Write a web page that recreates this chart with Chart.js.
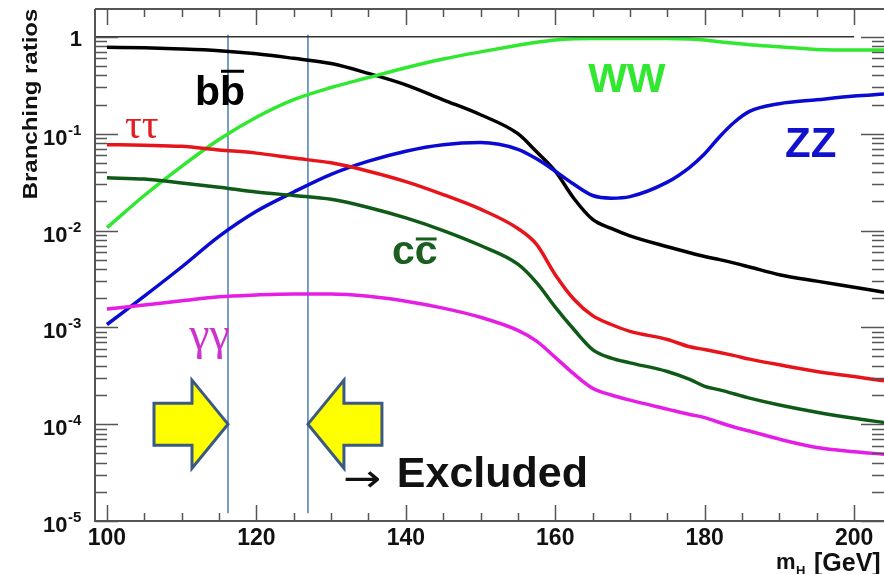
<!DOCTYPE html>
<html>
<head>
<meta charset="utf-8">
<script src="https://cdn.jsdelivr.net/npm/chart.js@4.4.1/dist/chart.umd.min.js"></script>
<style>
  html, body { margin: 0; padding: 0; background: #fff; }
  canvas { display: block; }
</style>
</head>
<body>
<canvas id="chart" width="884" height="574"></canvas>
<script>
// Higgs mass points (GeV)
const masses = [100, 105, 110, 115, 120, 125, 130, 135, 140, 145, 150, 155, 157.5, 160, 162.5, 165, 167.5, 170, 175, 178, 180, 182, 184, 186, 190, 195, 200, 204];

// branching ratios
const brBB  = [0.78, 0.77, 0.75, 0.72, 0.67, 0.60, 0.53, 0.42, 0.32, 0.224, 0.157, 0.10, 0.065, 0.041, 0.0214, 0.0130, 0.0105, 0.0088, 0.0068, 0.0059, 0.0054, 0.0050, 0.0046, 0.0042, 0.0035, 0.0030, 0.0026, 0.0023];
const brWW  = [0.0107, 0.023, 0.046, 0.087, 0.148, 0.225, 0.30, 0.38, 0.48, 0.59, 0.70, 0.82, 0.88, 0.93, 0.955, 0.96, 0.96, 0.96, 0.96, 0.95, 0.93, 0.89, 0.86, 0.83, 0.79, 0.74, 0.73, 0.73];
const brZZ  = [0.00107, 0.0021, 0.0042, 0.0087, 0.0158, 0.025, 0.038, 0.052, 0.066, 0.077, 0.081, 0.069, 0.055, 0.041, 0.030, 0.023, 0.0216, 0.0224, 0.0316, 0.045, 0.062, 0.093, 0.132, 0.17, 0.204, 0.224, 0.245, 0.257];
const brTau = [0.077, 0.076, 0.074, 0.068, 0.063, 0.056, 0.050, 0.041, 0.032, 0.0235, 0.0166, 0.0105, 0.0072, 0.0035, 0.00195, 0.00132, 0.00107, 0.00091, 0.00075, 0.00063, 0.00059, 0.00055, 0.00051, 0.00047, 0.00041, 0.00035, 0.00031, 0.00028];
const brCC  = [0.035, 0.034, 0.031, 0.028, 0.025, 0.023, 0.021, 0.0173, 0.0135, 0.0100, 0.0070, 0.0045, 0.0029, 0.00162, 0.00095, 0.00059, 0.00048, 0.00043, 0.00035, 0.00029, 0.000246, 0.000226, 0.000205, 0.000186, 0.000158, 0.000133, 0.000115, 0.000104];
const brGG  = [0.00155, 0.0017, 0.00188, 0.00207, 0.00216, 0.00221, 0.00221, 0.00209, 0.00186, 0.00158, 0.00127, 0.00093, 0.00072, 0.00049, 0.00033, 0.000235, 0.0002, 0.000177, 0.000143, 0.000126, 0.000117, 0.000104, 0.000093, 0.000085, 0.00007, 0.0000575, 0.000052, 0.000049];

// excluded window edges (GeV)
const excludedEdges = [116.2, 126.9];

// axis ticks
const yMajorExp = [0, -1, -2, -3, -4, -5];
const xMajorTicks = [100, 120, 140, 160, 180, 200];

function pts(vals) {
    return masses.map((m, i) => ({ x: m, y: vals[i] }));
}

function curve(vals, color) {
    return {
        data: pts(vals),
        borderColor: color,
        borderWidth: 3.5,
        pointRadius: 0,
        fill: false,
        cubicInterpolationMode: 'monotone'
    };
}

const datasets = [
    { data: [{ x: 98.4, y: 1 }, { x: 200, y: 1 }], borderColor: '#333', borderWidth: 1.5, pointRadius: 0 },
    curve(brGG, '#e41ee4'),
    curve(brCC, '#0f5a16'),
    curve(brTau, '#e8141c'),
    curve(brZZ, '#0a0ad2'),
    curve(brWW, '#30e830'),
    curve(brBB, '#000000')
];
excludedEdges.forEach(e => {
    datasets.push({ data: [{ x: e, y: 1.05 }, { x: e, y: 1.2e-5 }], borderColor: '#4a7ebb', borderWidth: 1.5, pointRadius: 0 });
});

const frameColor = '#555';

const axisPlugin = {
    id: 'rootAxes',
    afterDatasetsDraw(chart) {
        const c = chart.ctx, a = chart.chartArea;
        const xs = chart.scales.x, ys = chart.scales.y;
        c.save();
        c.strokeStyle = frameColor;
        c.lineWidth = 2;
        c.beginPath();
        c.moveTo(a.left, a.top); c.lineTo(a.right, a.top);
        c.moveTo(a.left, a.top); c.lineTo(a.left, a.bottom);
        c.lineTo(a.right, a.bottom);
        c.stroke();

        // x ticks, bottom and top
        c.lineWidth = 1.5;
        c.beginPath();
        for (let m = 100; m <= 204; m += 5) {
            const px = Math.round(xs.getPixelForValue(m)) + 0.5;
            const len = m % 20 === 0 ? 16 : 8;
            c.moveTo(px, a.bottom); c.lineTo(px, a.bottom - len);
            c.moveTo(px, a.top); c.lineTo(px, a.top + len);
        }
        // y ticks, left and right
        for (let d = -5; d <= 0; d++) {
            for (let k = 1; k <= 9; k++) {
                const v = k * Math.pow(10, d);
                if (v > ys.max) break;
                const py = Math.round(ys.getPixelForValue(v)) + 0.5;
                const len = k === 1 ? 23 : 12;
                c.moveTo(a.left, py); c.lineTo(a.left + len, py);
                c.moveTo(a.right, py); c.lineTo(a.right - len, py);
            }
        }
        c.stroke();

        // tick labels
        c.fillStyle = '#111';
        c.textBaseline = 'alphabetic';
        c.font = 'bold 23px "Liberation Sans", Arial, sans-serif';
        c.textAlign = 'center';
        xMajorTicks.forEach(m => {
            c.fillText(String(m), xs.getPixelForValue(m), 545);
        });
        yMajorExp.forEach(e => {
            const py = ys.getPixelForValue(Math.pow(10, e));
            if (e === 0) {
                c.textAlign = 'right';
                c.font = 'bold 22px "Liberation Sans", Arial, sans-serif';
                c.fillText('1', 82, py + 9);
                return;
            }
            c.textAlign = 'left';
            c.font = 'bold 22px "Liberation Sans", Arial, sans-serif';
            c.fillText('10', 43, py + 11);
            c.font = 'bold 15px "Liberation Sans", Arial, sans-serif';
            c.fillText(String(e), 68, py + 1);
        });

        // axis titles
        c.save();
        c.translate(37, 104);
        c.rotate(-Math.PI / 2);
        c.scale(1.2, 1);
        c.textAlign = 'center';
        c.font = 'bold 20px "Liberation Sans", Arial, sans-serif';
        c.fillText('Branching ratios', 0, 0);
        c.restore();

        c.textAlign = 'left';
        c.font = 'bold 22px "Liberation Sans", Arial, sans-serif';
        c.fillText('m', 776, 569);
        c.font = 'bold 13px "Liberation Sans", Arial, sans-serif';
        c.fillText('H', 796, 575);
        c.font = 'bold 25px "Liberation Sans", Arial, sans-serif';
        c.fillText('[GeV]', 814, 571);
        c.restore();
    }
};

// curve names and the excluded-window markers, anchored in data coordinates
const curveLabels = [
    { text: 'b', bar: 'b', x: 111.78, y: 0.199, color: '#000', font: 'bold 41px "Liberation Sans", Arial, sans-serif', barUp: 35 },
    { text: 'ττ', x: 102.4, y: 0.091, color: '#e01e24', font: '42px "Liberation Serif", "Times New Roman", serif' },
    { text: 'WW', x: 164.4, y: 0.271, color: '#30e830', font: 'bold 41px "Liberation Sans", Arial, sans-serif' },
    { text: 'ZZ', x: 190.75, y: 0.058, color: '#1212cc', font: 'bold 42px "Liberation Sans", Arial, sans-serif' },
    { text: 'c', bar: 'c', x: 138.15, y: 0.00446, color: '#1b5e20', font: 'bold 41px "Liberation Sans", Arial, sans-serif', barUp: 27 },
    { text: 'γγ', x: 111.0, y: 0.000593, color: '#cc33cc', font: '46px "Liberation Serif", "Times New Roman", serif' }
];

function drawArrow(c, tx, ty, dir) {
    // dir = 1 points right, -1 points left
    const headLen = 36, headHalf = 44, bodyLen = 38, bodyHalf = 21;
    c.beginPath();
    c.moveTo(tx, ty);
    c.lineTo(tx - dir * headLen, ty - headHalf);
    c.lineTo(tx - dir * headLen, ty - bodyHalf);
    c.lineTo(tx - dir * (headLen + bodyLen), ty - bodyHalf);
    c.lineTo(tx - dir * (headLen + bodyLen), ty + bodyHalf);
    c.lineTo(tx - dir * headLen, ty + bodyHalf);
    c.lineTo(tx - dir * headLen, ty + headHalf);
    c.closePath();
    c.fillStyle = '#ffff00';
    c.fill();
    c.lineWidth = 3;
    c.lineJoin = 'miter';
    c.strokeStyle = '#3a5a84';
    c.stroke();
}

const labelPlugin = {
    id: 'curveLabels',
    afterDraw(chart) {
        const c = chart.ctx;
        const xs = chart.scales.x, ys = chart.scales.y;
        c.save();
        c.textAlign = 'left';
        c.textBaseline = 'alphabetic';
        curveLabels.forEach(l => {
            const px = xs.getPixelForValue(l.x), py = ys.getPixelForValue(l.y);
            c.font = l.font;
            c.fillStyle = l.color;
            c.fillText(l.text, px, py);
            if (l.bar) {
                const w1 = c.measureText(l.text).width;
                const w2 = c.measureText(l.bar).width;
                c.fillText(l.bar, px + w1, py);
                c.fillRect(px + w1 + 1, py - l.barUp, w2 - 2, 3);
            }
        });

        const ay = ys.getPixelForValue(1e-4);
        drawArrow(c, xs.getPixelForValue(excludedEdges[0]), ay, 1);
        drawArrow(c, xs.getPixelForValue(excludedEdges[1]), ay, -1);

        const ey = ys.getPixelForValue(2.24e-5);
        c.fillStyle = '#111';
        c.save();
        c.translate(xs.getPixelForValue(131.6), ey + 4);
        c.scale(1.2, 1);
        c.font = '38px "DejaVu Sans", sans-serif';
        c.fillText('→', 0, 0);
        c.restore();
        c.font = 'bold 43px "Liberation Sans", Arial, sans-serif';
        c.fillText('Excluded', xs.getPixelForValue(138.8), ey);
        c.restore();
    }
};

new Chart(document.getElementById('chart'), {
    type: 'line',
    data: { datasets: datasets },
    options: {
        responsive: false,
        animation: false,
        devicePixelRatio: 1,
        layout: { padding: { left: 95, top: 9, right: 0, bottom: 53 } },
        plugins: { legend: { display: false }, tooltip: { enabled: false } },
        scales: {
            x: { type: 'linear', display: false, min: 98.4, max: 204 },
            y: { type: 'logarithmic', display: false, min: 1e-5, max: 1.94 }
        }
    },
    plugins: [axisPlugin, labelPlugin]
});
</script>
</body>
</html>
